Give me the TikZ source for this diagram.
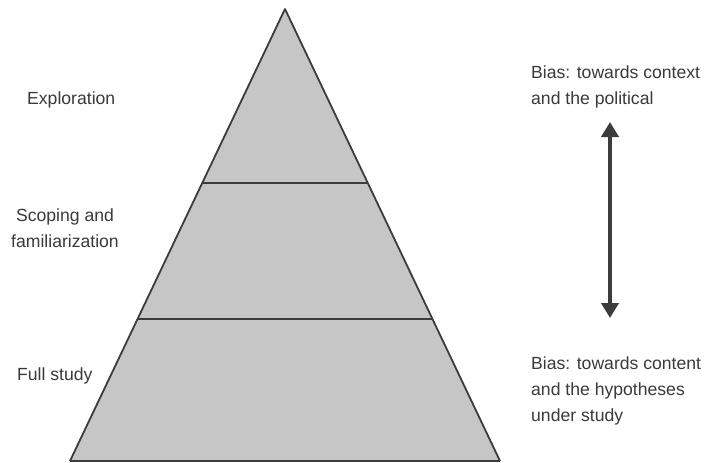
\documentclass[tikz,border=0pt]{standalone}
\usepackage{fontspec}
\setmainfont{Liberation Sans}
\usetikzlibrary{arrows.meta}
\definecolor{txt}{HTML}{3A3A3A}
\definecolor{fillg}{HTML}{C6C6C6}
\definecolor{edge}{HTML}{3C3C3C}
\begin{document}
\begin{tikzpicture}[x=1pt,y=-1pt,
  lbl/.style={text=txt,font=\fontsize{17.6}{26}\selectfont,inner sep=0pt},
  tier/.style={draw=edge,line width=1.8pt,line join=round},
  divider/.style={draw=edge,line width=2.2pt},
  bias/.style={draw=edge,line width=4pt,{Triangle[width=17pt,length=15pt]}-{Triangle[width=17pt,length=15pt]}}]
\useasboundingbox (0,0) rectangle (707,463);
\fill[white] (0,0) rectangle (707,463);
% pyramid
\coordinate (apex) at (285,9);
\coordinate (bl) at (70,461);
\coordinate (br) at (500,461);
\fill[fillg] (apex) -- (br) -- (bl) -- cycle;
\draw[divider] (203,183) -- (367,183);
\draw[divider] (138,319) -- (432,319);
\draw[tier] (bl) -- (apex) -- (br);
\draw[tier] (bl) -- (br);
% left labels
\node[lbl,anchor=west] (expl) at (27,100) {Exploration};
\node[lbl,align=center] (scop) at (65,228) {Scoping and\\familiarization};
\node[lbl,anchor=west] (full) at (17,376) {Full study};
% right labels
\node[lbl,anchor=west,align=left] (top) at (531,87) {Bias: towards context\\and the political};
\node[lbl,anchor=west,align=left] (bot) at (531,391) {Bias: towards content\\and the hypotheses\\under study};
% arrow
\coordinate (atop) at (610,122);
\coordinate (abot) at (610,318);
\draw[bias] (atop) -- (abot);
\end{tikzpicture}
\end{document}
